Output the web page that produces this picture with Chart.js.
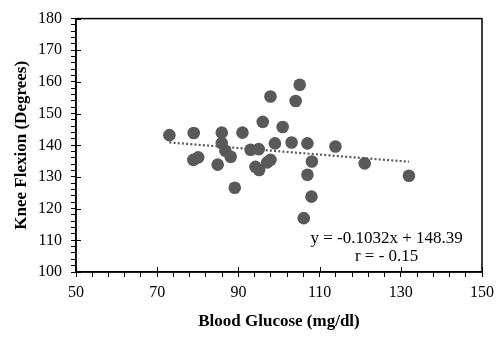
<!DOCTYPE html>
<html>
<head>
<meta charset="utf-8">
<script src="https://cdn.jsdelivr.net/npm/chart.js@4/dist/chart.umd.min.js"></script>
<style>
  html, body { margin: 0; padding: 0; background: #fff; }
  #wrap { width: 501px; height: 338px; }
</style>
</head>
<body>
<div id="wrap"><canvas id="kneeChart"></canvas></div>
<script>
// blood glucose (mg/dl) vs knee flexion (degrees)
var glucose = [73, 79, 85.9, 91, 97.9, 96, 85.9, 78.9, 80.1, 84.9, 86.8, 88.1, 89.1, 93, 95,
  94.2, 95.1, 97.1, 97.9, 99, 105.1, 104.1, 100.9, 103.1, 107, 113.9, 108.1, 121.1, 132, 107, 108, 106.1];
var flexion = [143.2, 143.9, 144, 144, 155.4, 147.4, 140.7, 135.4, 136.2, 133.9, 138.3, 136.4, 126.6, 138.6, 138.8,
  133.2, 132.2, 134.6, 135.4, 140.6, 159.1, 154, 145.8, 140.9, 140.6, 139.6, 134.9, 134.3, 130.4, 130.7, 123.8, 117];

// trend line end points
var trendX = [73, 132];
var trendY = [140.9, 134.8];

var xTickLabels = [50, 70, 90, 110, 130, 150];
var yTickLabels = [100, 110, 120, 130, 140, 150, 160, 170, 180];

var equationText = 'y = -0.1032x + 148.39';
var rText = 'r = - 0.15';

var pointData = glucose.map(function (g, i) { return { x: g, y: flexion[i] }; });
var trendData = trendX.map(function (g, i) { return { x: g, y: trendY[i] }; });

var serif = "'Liberation Serif', 'Times New Roman', serif";

// frame + inner half of the major ticks + the equation text
var framePlugin = {
  id: 'frame',
  afterDraw: function (chart) {
    var ctx = chart.ctx;
    var a = chart.chartArea;
    var xs = chart.scales.x;
    var ys = chart.scales.y;
    ctx.save();
    ctx.strokeStyle = '#000';
    ctx.lineWidth = 1.5;
    ctx.strokeRect(a.left, a.top, a.right - a.left, a.bottom - a.top);
    ctx.lineWidth = 1;
    ctx.beginPath();
    xTickLabels.forEach(function (v) {
      var px = Math.round(xs.getPixelForValue(v)) + 0.5;
      ctx.moveTo(px, a.bottom);
      ctx.lineTo(px, a.bottom - 5);
    });
    yTickLabels.forEach(function (v) {
      var py = Math.round(ys.getPixelForValue(v)) + 0.5;
      ctx.moveTo(a.left, py);
      ctx.lineTo(a.left + 5, py);
    });
    ctx.stroke();

    ctx.fillStyle = '#000';
    ctx.font = '17px ' + serif;
    ctx.textAlign = 'center';
    ctx.textBaseline = 'middle';
    var cx = xs.getPixelForValue(126.5);
    ctx.fillText(equationText, cx, ys.getPixelForValue(110.6));
    ctx.fillText(rText, cx, ys.getPixelForValue(104.8));
    ctx.restore();
  }
};

new Chart(document.getElementById('kneeChart'), {
  type: 'scatter',
  data: {
    datasets: [{
      label: 'Knee flexion',
      data: pointData,
      backgroundColor: '#595959',
      borderColor: '#595959',
      pointRadius: 6.3,
      pointHoverRadius: 6.3,
      borderWidth: 0,
      order: 1
    }, {
      label: 'Trend',
      type: 'line',
      data: trendData,
      borderColor: '#595959',
      borderWidth: 2.2,
      borderDash: [2, 2.2],
      pointRadius: 0,
      fill: false,
      order: 2
    }]
  },
  options: {
    responsive: true,
    maintainAspectRatio: false,
    animation: false,
    layout: { padding: { top: 17, right: 19, left: 0, bottom: 0 } },
    plugins: {
      legend: { display: false },
      tooltip: { enabled: false }
    },
    scales: {
      x: {
        type: 'linear',
        min: 50,
        max: 150,
        afterFit: function (s) { s.height = 66; },
        ticks: {
          stepSize: 4,
          autoSkip: false,
          maxRotation: 0,
          padding: 6,
          color: '#000',
          font: { family: serif, size: 16 },
          callback: function (v) { return xTickLabels.indexOf(v) >= 0 ? String(v) : ''; }
        },
        grid: { drawOnChartArea: false, tickLength: 5, tickColor: '#000', tickWidth: 1 },
        border: { color: '#000', width: 1.5 },
        title: {
          display: true,
          text: 'Blood Glucose (mg/dl)',
          color: '#000',
          font: { family: serif, size: 17, weight: 'bold' },
          padding: { top: 0, bottom: 6 }
        }
      },
      y: {
        type: 'linear',
        min: 100,
        max: 180,
        afterFit: function (s) { s.width = 76; },
        ticks: {
          stepSize: 2,
          autoSkip: false,
          padding: 9,
          color: '#000',
          font: { family: serif, size: 16 },
          callback: function (v) { return yTickLabels.indexOf(v) >= 0 ? String(v) : ''; }
        },
        grid: { drawOnChartArea: false, tickLength: 5, tickColor: '#000', tickWidth: 1 },
        border: { color: '#000', width: 1.5 },
        title: {
          display: true,
          text: 'Knee Flexion (Degrees)',
          color: '#000',
          font: { family: serif, size: 17, weight: 'bold' },
          padding: { top: 11, bottom: 0 }
        }
      }
    }
  },
  plugins: [framePlugin]
});
</script>
</body>
</html>
